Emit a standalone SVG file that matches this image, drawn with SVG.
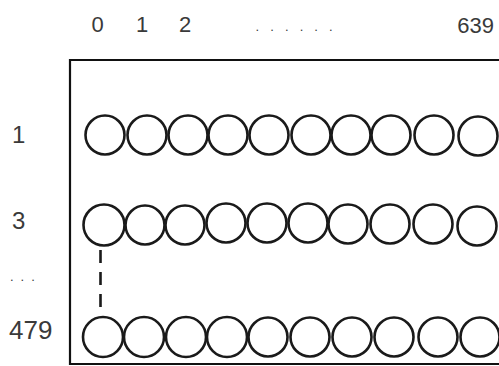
<svg xmlns="http://www.w3.org/2000/svg" width="499" height="366" viewBox="0 0 499 366">
<style>
.lbl{font-family:"Liberation Sans",Arial,sans-serif;fill:#3a3a3a}
.px{fill:none;stroke:#1a1a1a;stroke-width:2.6}
.frame{fill:none;stroke:#111;stroke-width:2.2}
.dash{stroke:#1a1a1a;stroke-width:2.6;stroke-dasharray:13 9}
</style>
<rect width="499" height="366" fill="#fff"/>
<g id="frame"><path class="frame" d="M502 60 H70 V364 H502"/></g>
<g id="col-labels">
<text class="lbl" x="97.5" y="32" font-size="22" text-anchor="middle">0</text>
<text class="lbl" x="142" y="32" font-size="22" text-anchor="middle">1</text>
<text class="lbl" x="185" y="32" font-size="22" text-anchor="middle">2</text>
<text class="lbl" x="255.5" y="30.5" font-size="13" letter-spacing="11.1">......</text>
<text class="lbl" x="494" y="33" font-size="22" text-anchor="end">639</text>
</g>
<g id="row-labels">
<text class="lbl" x="12" y="143" font-size="24">1</text>
<text class="lbl" x="12" y="229" font-size="24">3</text>
<text class="lbl" x="10" y="281" font-size="13" letter-spacing="7">...</text>
<text class="lbl" x="9" y="339" font-size="26">479</text>
</g>
<g id="row-1">
<circle class="px" cx="105" cy="135" r="19.5"/>
<circle class="px" cx="147" cy="135" r="19.5"/>
<circle class="px" cx="188" cy="135" r="19.5"/>
<circle class="px" cx="228" cy="135" r="19.5"/>
<circle class="px" cx="269" cy="135" r="19.5"/>
<circle class="px" cx="311" cy="135" r="19.5"/>
<circle class="px" cx="351" cy="135" r="19.5"/>
<circle class="px" cx="391" cy="135" r="19.5"/>
<circle class="px" cx="434" cy="135" r="19.5"/>
<circle class="px" cx="478" cy="136" r="19.5"/>
</g>
<g id="row-3">
<circle class="px" cx="104" cy="225" r="20.5"/>
<circle class="px" cx="145" cy="225" r="19.5"/>
<circle class="px" cx="185" cy="225" r="19.5"/>
<circle class="px" cx="226" cy="223" r="19.5"/>
<circle class="px" cx="267" cy="223" r="19.5"/>
<circle class="px" cx="308" cy="223" r="19.5"/>
<circle class="px" cx="348" cy="224" r="19.5"/>
<circle class="px" cx="390" cy="224" r="19.5"/>
<circle class="px" cx="433" cy="224" r="19.5"/>
<circle class="px" cx="477" cy="226" r="19.5"/>
</g>
<g id="row-479">
<circle class="px" cx="103" cy="337" r="20"/>
<circle class="px" cx="144" cy="337" r="20"/>
<circle class="px" cx="186" cy="337" r="20"/>
<circle class="px" cx="227" cy="337" r="20"/>
<circle class="px" cx="268" cy="337" r="19.5"/>
<circle class="px" cx="310" cy="337" r="19.5"/>
<circle class="px" cx="352" cy="337" r="19.5"/>
<circle class="px" cx="394" cy="337" r="19.5"/>
<circle class="px" cx="438" cy="337" r="19.5"/>
<circle class="px" cx="480" cy="337" r="19.5"/>
</g>
<g id="connectors">
<line class="dash" x1="100.5" y1="250" x2="100.5" y2="313"/>
</g>
</svg>
